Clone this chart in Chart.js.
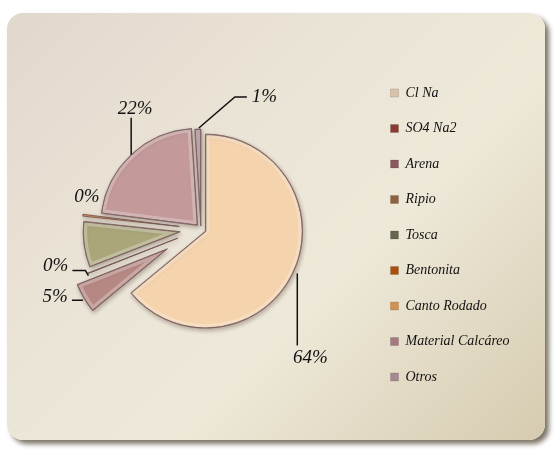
<!DOCTYPE html>
<html>
<head>
<meta charset="utf-8">
<script src="https://cdn.jsdelivr.net/npm/chart.js@4.4.0/dist/chart.umd.min.js"></script>
<style>
  html, body { margin: 0; padding: 0; background: #fff; }
  #wrap { position: relative; width: 554px; height: 449px; }
  #panel {
    position: absolute; left: 7px; top: 13px; width: 538px; height: 427px;
    border-radius: 16px;
    background: linear-gradient(135deg, #e1d8cd 0%, #ebe5d7 40%, #ede8d8 62%, #d6cbb0 100%);
    box-shadow: 4px 4px 5px rgba(80, 70, 50, 0.75);
  }
  canvas { position: absolute; left: 0; top: 0; }
</style>
</head>
<body>
<div id="wrap">
  <div id="panel"></div>
  <canvas id="c" width="554" height="449"></canvas>
</div>
<script>
const categories = ['Cl Na', 'SO4 Na2', 'Arena', 'Ripio', 'Tosca', 'Bentonita', 'Canto Rodado', 'Material Calcáreo', 'Otros'];
const shares = [64, 5, 0.1, 0, 7.6, 0.3, 0, 22, 1];
const showLabel = [true, true, true, false, false, true, false, true, true];

const sliceColors = ['#f5d3ad', '#b68884', '#8c5c60', '#8c6440', '#aaa67a', '#e0904c', '#d8a060', '#c3999a', '#a88490'];
const legendColors = ['#d9c4aa', '#8a3c30', '#8a5a60', '#8c6240', '#68674e', '#a85010', '#d39250', '#a67880', '#a88892'];

// how far each slice is pulled out of the pie (px)
const pull = [5, 39, 25, 0, 21, 22, 0, 5, 3];

// leader line points and text anchor, relative to the slice's outer edge
const leaders = {
  0: { line: [[4, 1], [4, 73]], text: [17, 86], align: 'center' },
  1: { line: [[-1, 2], [-12, 2]], text: [-16, -1], align: 'right' },
  2: { line: [[1, 2], [-2, -3], [-15, -3]], text: [-19, -8], align: 'right' },
  5: { line: [], text: [4, -18], align: 'center' },
  7: { line: [[0, 0], [0, -37]], text: [4, -46], align: 'center' },
  8: { line: [[1, -1], [37, -32], [49, -32]], text: [54, -32], align: 'left' }
};

const total = shares.reduce((a, b) => a + b, 0);

const explode = {
  id: 'explode',
  beforeDatasetsDraw(chart) {
    const { ctx } = chart;
    chart.getDatasetMeta(0).data.forEach((arc, i) => {
      if (arc.circumference === 0) return;
      const mid = (arc.startAngle + arc.endAngle) / 2;
      ctx.save();
      ctx.translate(Math.cos(mid) * pull[i], Math.sin(mid) * pull[i]);
      ctx.save();
      ctx.shadowColor = 'rgba(70,50,40,0.35)';
      ctx.shadowBlur = 4;
      ctx.shadowOffsetX = 1;
      ctx.shadowOffsetY = 2;
      arc.draw(ctx);
      ctx.restore();
      // soft bevel highlight along the slice edges
      if (arc.circumference > 0.05) {
        ctx.beginPath();
        ctx.moveTo(arc.x, arc.y);
        ctx.arc(arc.x, arc.y, arc.outerRadius, arc.startAngle, arc.endAngle);
        ctx.closePath();
        ctx.clip();
        ctx.strokeStyle = 'rgba(255,255,255,0.28)';
        ctx.lineWidth = 8;
        ctx.stroke();
        ctx.strokeStyle = 'rgba(110,80,80,0.8)';
        ctx.lineWidth = 1.5;
        ctx.stroke();
      }
      ctx.restore();
    });
    return false;
  }
};

const pieLabels = {
  id: 'pieLabels',
  afterDraw(chart) {
    const { ctx } = chart;
    ctx.save();
    ctx.font = 'italic 19px "Liberation Serif"';
    ctx.fillStyle = '#111';
    ctx.strokeStyle = '#111';
    ctx.lineWidth = 1.5;
    ctx.textBaseline = 'middle';
    chart.getDatasetMeta(0).data.forEach((arc, i) => {
      if (!showLabel[i]) return;
      const lay = leaders[i];
      const mid = (arc.startAngle + arc.endAngle) / 2;
      const r = arc.outerRadius + pull[i];
      const ax = arc.x + Math.cos(mid) * r;
      const ay = arc.y + Math.sin(mid) * r;
      if (lay.line.length > 1) {
        ctx.beginPath();
        lay.line.forEach(([dx, dy], k) => {
          if (k === 0) ctx.moveTo(ax + dx, ay + dy);
          else ctx.lineTo(ax + dx, ay + dy);
        });
        ctx.stroke();
      }
      ctx.textAlign = lay.align;
      ctx.fillText(Math.round(shares[i] / total * 100) + '%', ax + lay.text[0], ay + lay.text[1]);
    });
    ctx.restore();
  }
};

new Chart(document.getElementById('c'), {
  type: 'pie',
  data: {
    labels: categories,
    datasets: [{
      data: shares,
      backgroundColor: sliceColors,
      borderColor: 'rgba(120,90,90,0.9)',
      borderWidth: 1
    }]
  },
  options: {
    responsive: false,
    animation: false,
    radius: 97,
    layout: { padding: { left: 33, right: 45, top: 30, bottom: 21 } },
    plugins: {
      tooltip: { enabled: false },
      legend: {
        position: 'right',
        maxWidth: 140,
        title: { display: true, text: ' ', font: { size: 10 }, padding: 0 },
        labels: {
          boxWidth: 8,
          boxHeight: 8,
          padding: 21.5,
          color: '#111',
          font: { family: 'Liberation Serif', style: 'italic', size: 14 },
          generateLabels: () => categories.map((name, i) => ({
            text: name,
            fillStyle: legendColors[i],
            strokeStyle: 'rgba(0,0,0,0.25)',
            lineWidth: 0.5,
            fontColor: '#111',
            hidden: false,
            index: i
          }))
        }
      }
    }
  },
  plugins: [explode, pieLabels]
});
</script>
</body>
</html>
